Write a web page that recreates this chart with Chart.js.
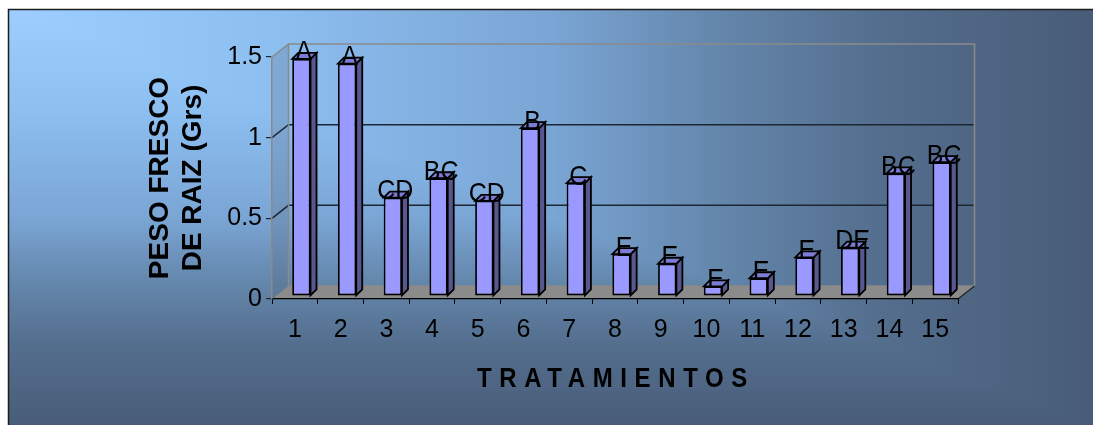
<!DOCTYPE html>
<html><head><meta charset="utf-8">
<script src="https://cdn.jsdelivr.net/npm/chart.js@4.4.0/dist/chart.umd.min.js"></script>
<style>html,body{margin:0;padding:0;background:#fff;overflow:hidden}#wrap{width:1093px;height:425px;position:relative}</style>
</head><body><div id="wrap"><canvas id="c"></canvas></div>
<script>
// ---- data ----
const categories = ['1','2','3','4','5','6','7','8','9','10','11','12','13','14','15'];
const pesoFresco = [1.47,1.44,0.61,0.73,0.59,1.04,0.70,0.26,0.20,0.06,0.11,0.24,0.30,0.76,0.83];
const letters = ['A','A','CD','BC','CD','B','C','E','E','E','E','E','DE','BC','BC'];
const yTickValues = [0,0.5,1,1.5];
const yTickLabels = ['0','0.5','1','1.5'];
const yTitle = ['PESO FRESCO','DE RAIZ (Grs)'];
const xTitle = 'TRATAMIENTOS';

// ---- styling / geometry ----
const FONT = '"Liberation Sans", Arial, sans-serif';
const DEPTH = {dx:16.5, dy:-13};
const SHIFT = {dx:6.5, dy:-3};
const BDEPTH = {dx:6, dy:-6};
const TEXT_STRETCH = 1.12;
const bgStops = [[0,'rgb(157,206,255)'],[0.25,'rgb(140,190,240)'],[0.5,'rgb(122,165,212)'],[0.65,'rgb(100,135,172)'],[0.8,'rgb(84,110,142)'],[1,'rgb(72,92,120)']];

function poly(ctx, pts){ctx.beginPath();ctx.moveTo(pts[0][0],pts[0][1]);for(let i=1;i<pts.length;i++)ctx.lineTo(pts[i][0],pts[i][1]);ctx.closePath();}
function stretchedText(ctx, txt, x, y){
  ctx.save(); ctx.translate(x,y); ctx.scale(1,TEXT_STRETCH); ctx.fillText(txt,0,0); ctx.restore();
}

const bg3d = {
  id:'bg3d',
  beforeDraw(chart){
    const ctx = chart.ctx;
    ctx.save();
    ctx.fillStyle='#fff'; ctx.fillRect(0,0,chart.width,chart.height);
    const x0=8,y0=9,x1=1096,y1=428;
    let g=ctx.createLinearGradient(x0,0,x1,0); bgStops.forEach(s=>g.addColorStop(s[0],s[1]));
    ctx.fillStyle=g; ctx.fillRect(x0,y0,x1-x0,y1-y0);
    g=ctx.createLinearGradient(0,y0,0,y1); bgStops.forEach(s=>g.addColorStop(s[0],s[1]));
    ctx.fillStyle=g; poly(ctx,[[x0,y0],[x0,y1],[x1,y1]]); ctx.fill();
    ctx.strokeStyle='#1e1e1e'; ctx.lineWidth=1.5; ctx.strokeRect(8.5,9.5,1100,430);

    const a=chart.chartArea, ys=chart.scales.y;
    const L=a.left,R=a.right,T=a.top,B=a.bottom,dx=DEPTH.dx,dy=DEPTH.dy;
    // left side wall
    ctx.fillStyle='rgba(80,90,110,0.22)';
    poly(ctx,[[L,T],[L+dx,T+dy],[L+dx,B+dy],[L,B]]); ctx.fill();
    // floor
    ctx.fillStyle='#8b8b8b';
    poly(ctx,[[L,B],[L+dx,B+dy],[R+dx,B+dy],[R,B]]); ctx.fill();
    // gridlines
    ctx.strokeStyle='#1c2733'; ctx.lineWidth=1.5;
    ys.ticks.forEach(t=>{
      if(t.value<=0||t.value>=1.5) return;
      const y=ys.getPixelForValue(t.value);
      ctx.beginPath(); ctx.moveTo(L,y); ctx.lineTo(L+dx,y+dy); ctx.lineTo(R+dx,y+dy); ctx.stroke();
    });
    // wall outlines
    ctx.strokeStyle='#8a8a8a'; ctx.lineWidth=1.5;
    ctx.beginPath(); ctx.moveTo(L,T); ctx.lineTo(L+dx,T+dy); ctx.lineTo(R+dx,T+dy); ctx.lineTo(R+dx,B+dy); ctx.stroke();
    ctx.beginPath(); ctx.moveTo(L+dx,T+dy); ctx.lineTo(L+dx,B+dy); ctx.lineTo(R+dx,B+dy); ctx.stroke();
    ctx.strokeStyle='#222'; ctx.lineWidth=1.2;
    ctx.beginPath(); ctx.moveTo(R,B); ctx.lineTo(R+dx,B+dy); ctx.stroke();
    ctx.restore();
  },
  beforeDatasetsDraw(chart){ chart.ctx.save(); chart.ctx.translate(SHIFT.dx,SHIFT.dy); },
  afterDatasetsDraw(chart){
    const ctx=chart.ctx, meta=chart.getDatasetMeta(0);
    ctx.lineWidth=1.8; ctx.strokeStyle='#000'; ctx.lineJoin='miter';
    meta.data.forEach(bar=>{
      const p=bar.getProps(['x','y','base','width'],true);
      const x1=p.x-p.width/2, x2=p.x+p.width/2, top=p.y, bot=p.base, d=BDEPTH;
      ctx.fillStyle='#58588f';
      poly(ctx,[[x2,top],[x2+d.dx,top+d.dy],[x2+d.dx,bot+d.dy],[x2,bot]]); ctx.fill(); ctx.stroke();
      ctx.fillStyle='#7c7cd4';
      poly(ctx,[[x1,top],[x1+d.dx,top+d.dy],[x2+d.dx,top+d.dy],[x2,top]]); ctx.fill(); ctx.stroke();
    });
    ctx.restore();
    // letter labels
    ctx.save();
    ctx.font='25px '+FONT; ctx.fillStyle='#000'; ctx.textAlign='center'; ctx.textBaseline='alphabetic';
    meta.data.forEach((bar,i)=>{
      stretchedText(ctx, letters[i], bar.x+SHIFT.dx+2.5, bar.y+SHIFT.dy+1.5);
    });
    // x axis title
    ctx.font='bold 24px '+FONT; ctx.textAlign='left';
    if('letterSpacing' in ctx){ ctx.letterSpacing='7.6px'; }
    stretchedText(ctx, xTitle, 477, 387);
    ctx.restore();
  }
};

new Chart(document.getElementById('c'), {
  type:'bar',
  data:{ labels:categories, datasets:[{ data:pesoFresco, backgroundColor:'#9999ff', borderColor:'#000', borderWidth:1.8, borderSkipped:false, barPercentage:0.4, categoryPercentage:1.0, clip:false }]},
  options:{
    responsive:true, maintainAspectRatio:false, animation:false, devicePixelRatio:1,
    layout:{ padding:{left:140,right:135,top:57,bottom:0} },
    plugins:{ legend:{display:false}, tooltip:{enabled:false} },
    scales:{
      x:{
        grid:{ drawOnChartArea:false, tickLength:5, color:'#000', lineWidth:1, offset:true },
        border:{ display:true, color:'#000', width:1.2 },
        ticks:{ font:{family:FONT,size:25}, color:'#000', padding:11, maxRotation:0, autoSkip:false },
        afterFit(s){ s.height=126; }
      },
      y:{
        min:0, max:1.5,
        afterBuildTicks(s){ s.ticks = yTickValues.map(v=>({value:v})); },
        grid:{ drawOnChartArea:false, tickLength:6, color:'#1c2733', lineWidth:1.2 },
        border:{ display:true, color:'#8a8a8a', width:1.5 },
        ticks:{ font:{family:FONT,size:25}, color:'#000', padding:4,
                callback:(v)=>{ const i=yTickValues.indexOf(v); return i>=0?yTickLabels[i]:String(v); } },
        title:{ display:true, text:yTitle, color:'#000', font:{family:FONT,size:28,weight:'bold',lineHeight:'33px'}, padding:{top:4,bottom:0} },
        afterFit(s){ s.width=132; }
      }
    }
  },
  plugins:[bg3d]
});
</script></body></html>
